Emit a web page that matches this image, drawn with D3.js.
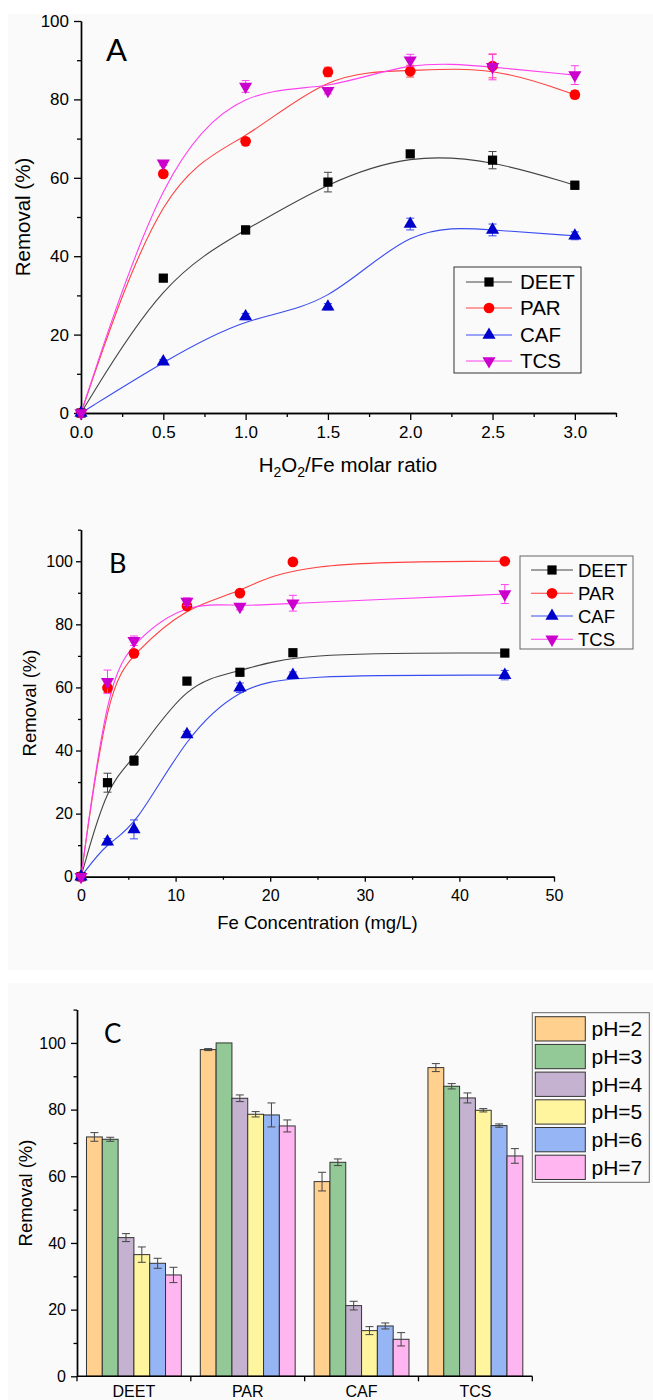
<!DOCTYPE html>
<html>
<head>
<meta charset="utf-8">
<script src="https://cdn.jsdelivr.net/npm/d3@7"></script>
<style>
body { margin: 0; background: #fff; }
text { font-family: "Liberation Sans", Arial, sans-serif; fill: #000; }
.letter { font-family: Lato, "Noto Sans", sans-serif; }
</style>
</head>
<body>
<div id="chart"></div>
<script>
// ---- panel A: H2O2/Fe molar ratio
const ratioA = [0, 0.5, 1.0, 1.5, 2.0, 2.5, 3.0];
const deetA = [0, 34.4, 46.7, 58.9, 66.1, 64.5, 58.1];
const parA  = [0, 61.0, 69.3, 87.0, 87.2, 88.5, 81.2];
const cafA  = [0, 13.1, 24.6, 27.1, 48.2, 46.7, 45.2];
const tcsA  = [0, 63.7, 83.3, 82.2, 90.0, 88.3, 86.2];
const deetErrA = [0, 0.5, 1.0, 2.5, 0.8, 2.2, 1.0];
const parErrA  = [0, 0.5, 0.5, 1.2, 1.5, 3.0, 1.0];
const cafErrA  = [0, 0.5, 0.8, 0.8, 1.5, 1.5, 1.0];
const tcsErrA  = [0, 0.5, 1.5, 0.8, 1.5, 3.3, 2.4];

// ---- panel B: Fe concentration
const feB = [0, 2.8, 5.6, 11.2, 16.8, 22.4, 44.8];
const deetB = [0, 29.8, 36.8, 62.0, 64.8, 71.0, 70.9];
const parB  = [0, 59.9, 70.8, 85.8, 89.9, 99.8, 100];
const cafB  = [0, 11.1, 15.0, 45.1, 59.9, 63.9, 63.9];
const tcsB  = [0, 61.8, 74.8, 87.2, 85.6, 86.7, 89.6];
const deetErrB = [0, 3.0, 1.5, 0.5, 0.5, 0.5, 0.5];
const parErrB  = [0, 1.5, 1.0, 1.0, 0.5, 0.5, 0.5];
const cafErrB  = [0, 1.0, 3.0, 1.0, 1.5, 1.0, 1.5];
const tcsErrB  = [0, 3.7, 1.5, 1.2, 1.0, 2.5, 3.0];

// ---- panel C: pH
const compounds = ["DEET", "PAR", "CAF", "TCS"];
const phLabels = ["pH=2", "pH=3", "pH=4", "pH=5", "pH=6", "pH=7"];
const ph2 = [71.8, 98.0, 58.4, 92.6];
const ph3 = [71.1, 100.0, 64.2, 87.0];
const ph4 = [41.6, 83.4, 21.2, 83.5];
const ph5 = [36.5, 78.6, 13.7, 79.8];
const ph6 = [33.9, 78.4, 15.1, 75.2];
const ph7 = [30.4, 75.1, 11.1, 66.1];
const ph2Err = [1.3, 0.3, 2.8, 1.2];
const ph3Err = [0.6, 0.0, 1.0, 0.8];
const ph4Err = [1.2, 1.0, 1.3, 1.5];
const ph5Err = [2.3, 0.8, 1.2, 0.5];
const ph6Err = [1.5, 3.6, 0.9, 0.5];
const ph7Err = [2.3, 1.8, 2.0, 2.2];

const seriesNames = ["DEET", "PAR", "CAF", "TCS"];
const markerColors = ["#000000", "#ff0000", "#0000cc", "#cc00cc"];
const lineColors = ["#444444", "#ff4040", "#3a4cf0", "#ff40f0"];
const markerTypes = [d3.symbolSquare, d3.symbolCircle, d3.symbolTriangle, d3.symbolTriangle];
const markerSizes = [85, 90, 75, 75];
const phColors = ["#ffd08e", "#93c897", "#c4b2d0", "#fff59e", "#96b5f4", "#ffb5ef"];

const svg = d3.select("#chart").append("svg")
    .attr("width", 653)
    .attr("height", 1400);

// backgrounds
svg.append("rect").attr("x", 8).attr("y", 14).attr("width", 645).attr("height", 956).attr("fill", "#fafafa");
svg.append("rect").attr("x", 8).attr("y", 983).attr("width", 645).attr("height", 417).attr("fill", "#fafafa");

function styleAxis(g, fontSize) {
    g.selectAll("path").attr("stroke", "#000").attr("stroke-width", 1.4);
    g.selectAll("line").attr("stroke", "#000").attr("stroke-width", 1.3);
    g.selectAll("text").attr("font-size", fontSize).attr("font-family", "Liberation Sans, Arial, sans-serif").attr("fill", "#000");
}

function marker(i) {
    return d3.symbol().type(markerTypes[i]).size(markerSizes[i])();
}

// draws the four series of a scatter+bspline panel
function drawLines(x, y, xs, ys, errs) {
    const g = svg.append("g");
    const line = d3.line().curve(d3.curveBasis).x((d, j) => x(xs[j])).y(d => y(d));
    ys.forEach((vals, i) => {
        g.append("path")
            .attr("d", line(vals))
            .attr("fill", "none")
            .attr("stroke", lineColors[i])
            .attr("stroke-width", 1.1);
    });
    ys.forEach((vals, i) => {
        const eg = g.append("g").attr("stroke", lineColors[i]).attr("stroke-width", 1);
        vals.forEach((v, j) => {
            const e = errs[i][j];
            if (e <= 0) return;
            const cx = x(xs[j]);
            eg.append("line").attr("x1", cx).attr("x2", cx).attr("y1", y(v - e)).attr("y2", y(v + e));
            eg.append("line").attr("x1", cx - 4).attr("x2", cx + 4).attr("y1", y(v - e)).attr("y2", y(v - e));
            eg.append("line").attr("x1", cx - 4).attr("x2", cx + 4).attr("y1", y(v + e)).attr("y2", y(v + e));
        });
        g.append("g").selectAll("path")
            .data(vals)
            .enter().append("path")
            .attr("d", marker(i))
            .attr("fill", markerColors[i])
            .attr("transform", (d, j) => `translate(${x(xs[j])},${y(d)})` + (i == 3 ? " rotate(180)" : ""));
    });
}

function drawLegend(x0, y0, w, h, rows, lineX1, lineX2, textX, fontSize, stroke) {
    const lg = svg.append("g");
    lg.append("rect").attr("x", x0).attr("y", y0).attr("width", w).attr("height", h)
        .attr("fill", "none").attr("stroke", stroke).attr("stroke-width", 1);
    seriesNames.forEach((name, i) => {
        const yy = rows[i];
        lg.append("line").attr("x1", lineX1).attr("x2", lineX2).attr("y1", yy).attr("y2", yy)
            .attr("stroke", lineColors[i]).attr("stroke-width", 1.1);
        lg.append("path").attr("d", marker(i)).attr("fill", markerColors[i])
            .attr("transform", `translate(${(lineX1 + lineX2) / 2},${yy})` + (i == 3 ? " rotate(180)" : ""));
        lg.append("text").attr("x", textX).attr("y", yy + fontSize * 0.36).attr("font-size", fontSize).text(name);
    });
}

// ================= Panel A =================
const xA = d3.scaleLinear().domain([0, 3.25]).range([81, 616]);
const yA = d3.scaleLinear().domain([0, 100]).range([413, 21]);

svg.append("g").attr("transform", "translate(0,413)")
    .call(d3.axisBottom(xA).tickValues(d3.range(0.25, 3.3, 0.5)).tickFormat("").tickSize(4).tickSizeOuter(0))
    .call(g => styleAxis(g, 17));
svg.append("g").attr("transform", "translate(0,413)")
    .call(d3.axisBottom(xA).tickValues(ratioA).tickFormat(d3.format(".1f")).tickSize(7).tickPadding(6).tickSizeOuter(0))
    .call(g => styleAxis(g, 17));
svg.append("g").attr("transform", "translate(81,0)")
    .call(d3.axisLeft(yA).tickValues([10, 30, 50, 70, 90]).tickFormat("").tickSize(4).tickSizeOuter(0))
    .call(g => styleAxis(g, 17));
svg.append("g").attr("transform", "translate(81,0)")
    .call(d3.axisLeft(yA).tickValues([0, 20, 40, 60, 80, 100]).tickSize(7).tickPadding(5).tickSizeOuter(0))
    .call(g => styleAxis(g, 17));

const titleA = svg.append("text").attr("x", 348).attr("y", 472).attr("text-anchor", "middle").attr("font-size", 20.5);
titleA.append("tspan").text("H");
titleA.append("tspan").attr("font-size", 14).attr("dy", 5).text("2");
titleA.append("tspan").attr("dy", -5).text("O");
titleA.append("tspan").attr("font-size", 14).attr("dy", 5).text("2");
titleA.append("tspan").attr("dy", -5).text("/Fe molar ratio");

svg.append("text").attr("transform", "translate(30,217) rotate(-90)").attr("text-anchor", "middle")
    .attr("font-size", 20.5).text("Removal (%)");
svg.append("text").attr("class", "letter").attr("x", 106).attr("y", 61).attr("font-size", 31).text("A");

drawLines(xA, yA, ratioA, [deetA, parA, cafA, tcsA], [deetErrA, parErrA, cafErrA, tcsErrA]);
drawLegend(454, 267, 127, 106, [282, 308, 335, 361], 466, 512, 520, 20.5, "#333");

// ================= Panel B =================
const xB = d3.scaleLinear().domain([0, 50]).range([81, 554]);
const yB = d3.scaleLinear().domain([0, 110]).range([876.7, 529.7]);

svg.append("g").attr("transform", "translate(0,876.7)")
    .call(d3.axisBottom(xB).tickValues([5, 15, 25, 35, 45]).tickFormat("").tickSize(3).tickSizeOuter(0))
    .call(g => styleAxis(g, 16));
svg.append("g").attr("transform", "translate(0,876.7)")
    .call(d3.axisBottom(xB).tickValues([0, 10, 20, 30, 40, 50]).tickSize(5).tickPadding(8).tickSizeOuter(0))
    .call(g => styleAxis(g, 16));
svg.append("g").attr("transform", "translate(81,0)")
    .call(d3.axisLeft(yB).tickValues([10, 30, 50, 70, 90, 110]).tickFormat("").tickSize(3).tickSizeOuter(0))
    .call(g => styleAxis(g, 16));
svg.append("g").attr("transform", "translate(81,0)")
    .call(d3.axisLeft(yB).tickValues([0, 20, 40, 60, 80, 100]).tickSize(5).tickPadding(3).tickSizeOuter(0))
    .call(g => styleAxis(g, 16));

svg.append("text").attr("x", 317.5).attr("y", 929).attr("text-anchor", "middle")
    .attr("font-size", 18.5).text("Fe Concentration (mg/L)");
svg.append("text").attr("transform", "translate(36,703) rotate(-90)").attr("text-anchor", "middle")
    .attr("font-size", 18.5).text("Removal (%)");
svg.append("text").attr("class", "letter").attr("x", 109).attr("y", 573).attr("font-size", 27).text("B");

drawLines(xB, yB, feB, [deetB, parB, cafB, tcsB], [deetErrB, parErrB, cafErrB, tcsErrB]);
drawLegend(520, 556, 113, 93, [570, 593.3, 616, 639.3], 531, 573, 578, 18.5, "#666");

// ================= Panel C =================
const xC = d3.scaleBand().domain(compounds).range([77, 532.3]);
const xInner = d3.scaleBand().domain(phLabels).range([0, xC.bandwidth()]).paddingOuter(0.6).paddingInner(0);
const yC = d3.scaleLinear().domain([0, 110]).range([1376.3, 1009.6]);

const phVals = [ph2, ph3, ph4, ph5, ph6, ph7];
const phErrs = [ph2Err, ph3Err, ph4Err, ph5Err, ph6Err, ph7Err];

const barG = svg.append("g");
phVals.forEach((vals, k) => {
    barG.append("g").selectAll("rect")
        .data(vals)
        .enter().append("rect")
        .attr("x", (d, j) => xC(compounds[j]) + xInner(phLabels[k]))
        .attr("y", d => yC(d))
        .attr("width", xInner.bandwidth())
        .attr("height", d => yC(0) - yC(d))
        .attr("fill", phColors[k])
        .attr("stroke", "#333")
        .attr("stroke-width", 1);
});
phVals.forEach((vals, k) => {
    const eg = barG.append("g").attr("stroke", "#444").attr("stroke-width", 1);
    vals.forEach((v, j) => {
        const e = phErrs[k][j];
        if (e <= 0) return;
        const cx = xC(compounds[j]) + xInner(phLabels[k]) + xInner.bandwidth() / 2;
        eg.append("line").attr("x1", cx).attr("x2", cx).attr("y1", yC(v - e)).attr("y2", yC(v + e));
        eg.append("line").attr("x1", cx - 4).attr("x2", cx + 4).attr("y1", yC(v - e)).attr("y2", yC(v - e));
        eg.append("line").attr("x1", cx - 4).attr("x2", cx + 4).attr("y1", yC(v + e)).attr("y2", yC(v + e));
    });
});

// x axis: ticks at the group boundaries, labels at group centres
const boundaries = compounds.map(c => xC(c)).concat([xC.range()[1]]);
const xCAxis = svg.append("g").attr("transform", "translate(0,1376.3)");
xCAxis.append("line").attr("x1", 77).attr("x2", 532.3).attr("y1", 0).attr("y2", 0)
    .attr("stroke", "#000").attr("stroke-width", 1.4);
xCAxis.selectAll(".bt").data(boundaries).enter().append("line")
    .attr("x1", d => d).attr("x2", d => d).attr("y1", 0).attr("y2", 5)
    .attr("stroke", "#000").attr("stroke-width", 1.3);
xCAxis.selectAll(".lab").data(compounds).enter().append("text")
    .attr("x", d => xC(d) + xC.bandwidth() / 2)
    .attr("y", 21)
    .attr("text-anchor", "middle")
    .attr("font-size", 16)
    .text(d => d);

svg.append("g").attr("transform", "translate(77,0)")
    .call(d3.axisLeft(yC).tickValues([10, 30, 50, 70, 90, 110]).tickFormat("").tickSize(3.5).tickSizeOuter(0))
    .call(g => styleAxis(g, 16));
svg.append("g").attr("transform", "translate(77,0)")
    .call(d3.axisLeft(yC).tickValues([0, 20, 40, 60, 80, 100]).tickSize(6).tickPadding(5).tickSizeOuter(0))
    .call(g => styleAxis(g, 16));

svg.append("text").attr("transform", "translate(32,1193) rotate(-90)").attr("text-anchor", "middle")
    .attr("font-size", 18.5).text("Removal (%)");
svg.append("text").attr("class", "letter").attr("x", 104).attr("y", 1043).attr("font-size", 26).text("C");

// legend C
const lgC = svg.append("g");
lgC.append("rect").attr("x", 532.3).attr("y", 1012.7).attr("width", 117).attr("height", 169.6)
    .attr("fill", "none").attr("stroke", "#666").attr("stroke-width", 1);
phLabels.forEach((name, k) => {
    const yy = 1016.7 + k * 27.7;
    lgC.append("rect").attr("x", 535.3).attr("y", yy).attr("width", 50).attr("height", 24.3)
        .attr("fill", phColors[k]).attr("stroke", "#333").attr("stroke-width", 1);
    lgC.append("text").attr("x", 591.5).attr("y", yy + 19.5).attr("font-size", 21).text(name);
});
</script>
</body>
</html>
